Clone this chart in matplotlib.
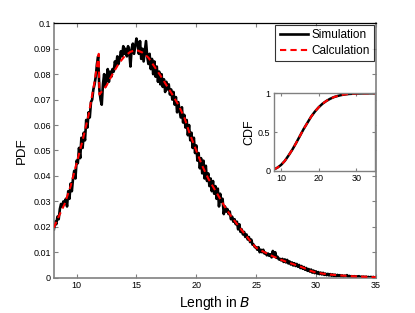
import numpy as np
import matplotlib
matplotlib.use("Agg")
import matplotlib.pyplot as plt

plt.rcParams['font.family'] = ['Liberation Sans', 'DejaVu Sans']

# ---- data ----
sim_x = np.round(np.arange(8.1, 35.05, 0.1), 1)
sim_pdf = [
    0.019, 0.022, 0.021, 0.024, 0.023, 0.027, 0.029, 0.028, 0.030, 0.029,
    0.031, 0.028, 0.034, 0.031, 0.037, 0.034, 0.039, 0.042, 0.039, 0.046,
    0.045, 0.051, 0.047, 0.055, 0.051, 0.057, 0.054, 0.062, 0.059, 0.065,
    0.063, 0.069, 0.070, 0.074, 0.076, 0.079, 0.084, 0.087, 0.074, 0.070,
    0.068, 0.076, 0.080, 0.075, 0.078, 0.082, 0.077, 0.081, 0.079, 0.082,
    0.081, 0.085, 0.083, 0.087, 0.084, 0.086, 0.089, 0.087, 0.091, 0.088,
    0.090, 0.087, 0.091, 0.089, 0.083, 0.090, 0.092, 0.088, 0.091, 0.094,
    0.092, 0.088, 0.093, 0.086, 0.090, 0.085, 0.089, 0.093, 0.087, 0.084,
    0.088, 0.082, 0.086, 0.080, 0.085, 0.079, 0.083, 0.077, 0.081, 0.076,
    0.080, 0.075, 0.078, 0.073, 0.077, 0.074, 0.076, 0.072, 0.074, 0.070,
    0.073, 0.068, 0.071, 0.065, 0.069, 0.066, 0.063, 0.067, 0.061, 0.064,
    0.059, 0.062, 0.056, 0.060, 0.054, 0.057, 0.051, 0.055, 0.049, 0.052,
    0.046, 0.049, 0.043, 0.047, 0.041, 0.046, 0.039, 0.044, 0.038, 0.041,
    0.036, 0.039, 0.034, 0.038, 0.033, 0.036, 0.031, 0.035, 0.028, 0.033,
    0.030, 0.031, 0.025, 0.028, 0.026, 0.027, 0.025, 0.026, 0.023, 0.024,
    0.022, 0.023, 0.021, 0.022, 0.019, 0.021, 0.018, 0.019, 0.017, 0.018,
    0.016, 0.017, 0.015, 0.016, 0.014, 0.015, 0.013, 0.013, 0.012, 0.012,
    0.011, 0.012, 0.010, 0.011, 0.010, 0.011, 0.0095, 0.0098, 0.0088, 0.0095,
    0.0086, 0.0092, 0.0080, 0.0105, 0.0085, 0.0100, 0.0078, 0.0082, 0.0072, 0.0074,
    0.0068, 0.0074, 0.0062, 0.0072, 0.0060, 0.0070, 0.0056, 0.0064, 0.0052, 0.0060,
    0.0048, 0.0057, 0.0046, 0.0054, 0.0043, 0.0050, 0.0038, 0.0046, 0.0035, 0.0042,
    0.0031, 0.0038, 0.0027, 0.0034, 0.0024, 0.0032, 0.0020, 0.0028, 0.0018, 0.0025,
    0.0016, 0.0022, 0.0014, 0.0020, 0.0013, 0.0019, 0.0011, 0.0016, 0.0010, 0.0015,
    0.0009, 0.0014, 0.0008, 0.0013, 0.0007, 0.0012, 0.0006, 0.0011, 0.0007, 0.0010,
    0.0005, 0.0009, 0.0004, 0.0008, 0.0005, 0.0010, 0.0003, 0.0007, 0.0004, 0.0006,
    0.0003, 0.0006, 0.0002, 0.0005, 0.0003, 0.0006, 0.0001, 0.0004, 0.0002, 0.0004,
    0.0001, 0.0004, 0.0001, 0.0003, 0.0000, 0.0003, 0.0001, 0.0003, 0.0000, 0.0002,
]

calc_x = [8.1, 8.5, 9.0, 9.5, 10.0, 10.5, 11.0, 11.5, 11.85, 11.9, 12.5, 13.0,
          13.5, 14.0, 14.5, 15.0, 15.5, 16.0, 16.5, 17.0, 17.5, 18.0, 18.5,
          19.0, 19.5, 20.0, 20.5, 21.0, 21.5, 22.0, 22.5, 23.0, 23.5, 24.0,
          24.5, 25.0, 25.5, 26.0, 26.5, 27.0, 27.5, 28.0, 28.5, 29.0, 29.5,
          30.0, 31.0, 32.0, 33.0, 34.0, 35.0]
calc_pdf = [0.0197, 0.024, 0.029, 0.036, 0.045, 0.054, 0.064, 0.077, 0.088,
            0.072, 0.0755, 0.080, 0.084, 0.0870, 0.0888, 0.0895, 0.0885, 0.0865,
            0.083, 0.0795, 0.0757, 0.072, 0.068, 0.063, 0.056, 0.050, 0.044,
            0.039, 0.035, 0.031, 0.027, 0.0236, 0.0205, 0.0175, 0.0145, 0.0118,
            0.0105, 0.0093, 0.0082, 0.0072, 0.0063, 0.0055, 0.0047, 0.0038,
            0.0028, 0.0020, 0.0013, 0.0009, 0.0006, 0.0004, 0.0002]

cdf_x = [8.1, 9, 10, 11, 12, 13, 14, 15, 16, 17, 18, 19, 20, 21, 22, 23, 24,
         25, 26, 27, 28, 30, 32, 35]
sim_cdf = [0.02, 0.042, 0.078, 0.13, 0.20, 0.275, 0.36, 0.45, 0.54, 0.62, 0.70,
           0.765, 0.82, 0.865, 0.90, 0.928, 0.95, 0.965, 0.977, 0.985, 0.991,
           0.997, 0.999, 1.0]
calc_cdf = [0.02, 0.042, 0.078, 0.13, 0.20, 0.275, 0.36, 0.45, 0.54, 0.62, 0.70,
            0.765, 0.82, 0.865, 0.90, 0.928, 0.95, 0.965, 0.977, 0.985, 0.991,
            0.997, 0.999, 1.0]

xticks = [10, 15, 20, 25, 30, 35]
yticks = [0, 0.01, 0.02, 0.03, 0.04, 0.05, 0.06, 0.07, 0.08, 0.09, 0.1]
ytick_labels = ['0', '0.01', '0.02', '0.03', '0.04', '0.05', '0.06', '0.07',
                '0.08', '0.09', '0.1']
inset_xticks = [10, 20, 30]
inset_yticks = [0, 0.5, 1]
inset_ytick_labels = ['0', '0.5', '1']

GRAY = '#808080'

fig = plt.figure(figsize=(4.15, 3.13), dpi=100)
ax = fig.add_axes([0.1313, 0.1128, 0.774, 0.8128])

ax.plot(sim_x, sim_pdf, color='black', lw=1.9, label='Simulation', zorder=2)
ax.plot(calc_x, calc_pdf, color='red', lw=1.5, ls=(0, (3, 2)), label='Calculation', zorder=3)

ax.set_xlim(8.15, 35)
ax.set_ylim(0, 0.1)
ax.set_xticks(xticks)
ax.set_yticks(yticks)
ax.set_yticklabels(ytick_labels)
ax.tick_params(direction='in', length=3, width=0.8, labelsize=6.5, colors=GRAY,
               labelcolor='black', top=True, right=True, pad=2.5)
for s in ['left', 'bottom', 'right']:
    ax.spines[s].set_color(GRAY)
    ax.spines[s].set_linewidth(1.2)
ax.spines['top'].set_color('black')
ax.spines['top'].set_linewidth(0.9)
ax.set_xlabel('Length in $B$', fontsize=10, labelpad=3)
ax.set_ylabel('PDF', fontsize=9.5, labelpad=4)

leg = ax.legend(loc='upper right', fontsize=8.5, frameon=True, fancybox=False,
                edgecolor='black', handlelength=2.4, borderpad=0.35,
                labelspacing=0.3, handletextpad=0.3, borderaxespad=0.15)
leg.get_frame().set_linewidth(0.8)

ins = fig.add_axes([0.660, 0.4537, 0.244, 0.2483])
ins.plot(cdf_x, sim_cdf, color='black', lw=1.8)
ins.plot(cdf_x, calc_cdf, color='red', lw=1.5, ls=(0, (3, 2)))
ins.set_xlim(8.1, 35)
ins.set_ylim(0, 1)
ins.set_xticks(inset_xticks)
ins.set_yticks(inset_yticks)
ins.set_yticklabels(inset_ytick_labels)
ins.tick_params(direction='in', length=2.5, width=0.8, labelsize=6.5, colors=GRAY,
                labelcolor='black', top=True, right=True, pad=2.5)
for s in ins.spines.values():
    s.set_color(GRAY)
    s.set_linewidth(1.0)
ins.set_ylabel('CDF', fontsize=9, labelpad=2)

fig.savefig('out.png', dpi=100)
